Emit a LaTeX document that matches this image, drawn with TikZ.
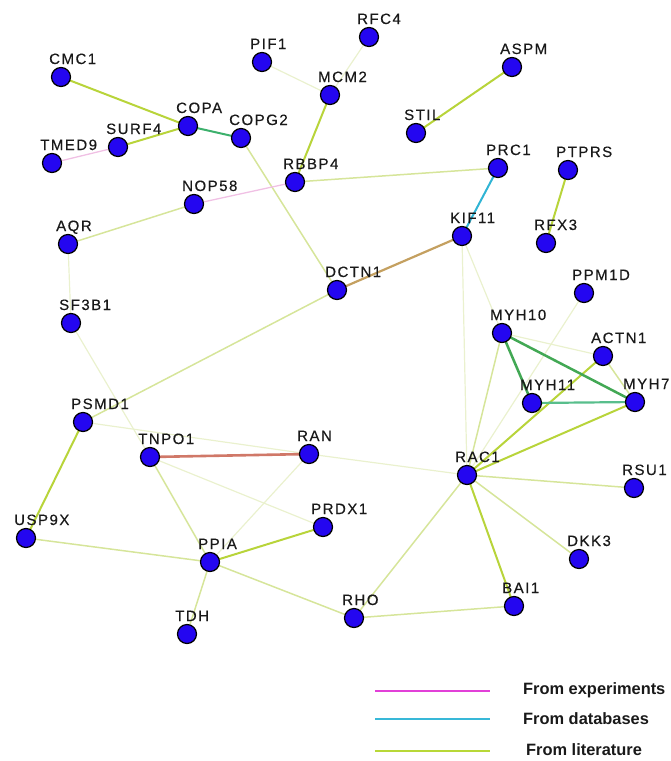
\documentclass[tikz,border=0pt]{standalone}
\usepackage{fontspec}
\newfontfamily\lblfont{Liberation Sans}[LetterSpace=10, FakeBold=0.4]
\newfontfamily\legfont{Liberation Sans}
\usetikzlibrary{backgrounds}

\definecolor{nodeblue}{RGB}{36,6,240}
\definecolor{litA}{RGB}{184,212,58}
\definecolor{litB}{RGB}{214,229,154}
\definecolor{litC}{RGB}{234,241,206}
\definecolor{expC}{RGB}{240,192,228}
\definecolor{dbC}{RGB}{48,180,212}
\definecolor{greenC}{RGB}{60,176,108}
\definecolor{tanC}{RGB}{196,160,96}
\definecolor{redC}{RGB}{208,120,104}
\definecolor{myoA}{RGB}{66,168,84}
\definecolor{myoB}{RGB}{88,190,140}
\definecolor{legMag}{RGB}{226,64,216}
\definecolor{legCyan}{RGB}{56,184,216}
\definecolor{legLime}{RGB}{184,216,56}

\tikzset{
  gene/.style={circle, minimum size=19pt, inner sep=0pt, fill=nodeblue, draw=black, line width=1.2pt},
  lbl/.style={anchor=base west, inner sep=0pt, font=\lblfont\fontsize{15}{15}\selectfont, text=black!90},
  legtext/.style={anchor=west, inner sep=0pt, font=\legfont\bfseries\fontsize{16.4}{17}\selectfont, text=black!90},
  litA/.style={draw=litA, line width=2pt},
  litB/.style={draw=litB, line width=1.5pt},
  litC/.style={draw=litC, line width=1.2pt},
  expE/.style={draw=expC, line width=1.3pt},
  dbE/.style={draw=dbC, line width=2pt},
  greenE/.style={draw=greenC, line width=2pt},
  tanE/.style={draw=tanC, line width=2.2pt},
  redE/.style={draw=redC, line width=2.6pt},
  myoA/.style={draw=myoA, line width=2.5pt},
  myoB/.style={draw=myoB, line width=2.2pt},
  legline/.style={line width=2pt}
}

% a gene: circle plus its name above and to the right
\newcommand{\gene}[4]{%
  \node[gene] (#1) at (#2,#3) {};
  \node[lbl] (#1-l) at ({#2-12},{#3-13}) {#4};
}

\begin{document}
\begin{tikzpicture}[x=1pt, y=-1pt]
\useasboundingbox (0,0) rectangle (671,761);

\gene{RFC4}{369}{37}{RFC4}
\gene{PIF1}{262}{62}{PIF1}
\gene{CMC1}{61}{77}{CMC1}
\gene{ASPM}{512}{67}{ASPM}
\gene{MCM2}{330}{95}{MCM2}
\gene{COPA}{188}{126}{COPA}
\gene{COPG2}{241}{138}{COPG2}
\gene{SURF4}{118}{147}{SURF4}
\gene{TMED9}{52}{163}{TMED9}
\gene{STIL}{416}{133}{STIL}
\gene{PRC1}{498}{168}{PRC1}
\gene{PTPRS}{568}{170}{PTPRS}
\gene{RBBP4}{295}{182}{RBBP4}
\gene{NOP58}{194}{204}{NOP58}
\gene{AQR}{68}{244}{AQR}
\gene{KIF11}{462}{236}{KIF11}
\gene{RFX3}{546}{243}{RFX3}
\gene{DCTN1}{337}{290}{DCTN1}
\gene{PPM1D}{584}{293}{PPM1D}
\gene{SF3B1}{71}{323}{SF3B1}
\gene{MYH10}{502}{333}{MYH10}
\gene{ACTN1}{603}{356}{ACTN1}
\gene{MYH11}{532}{403}{MYH11}
\gene{MYH7}{635}{402}{MYH7}
\gene{PSMD1}{83}{422}{PSMD1}
\gene{TNPO1}{150}{457}{TNPO1}
\gene{RAN}{309}{454}{RAN}
\gene{RAC1}{467}{475}{RAC1}
\gene{RSU1}{634}{488}{RSU1}
\gene{USP9X}{26}{538}{USP9X}
\gene{PRDX1}{323}{527}{PRDX1}
\gene{DKK3}{579}{559}{DKK3}
\gene{PPIA}{210}{562}{PPIA}
\gene{BAI1}{514}{606}{BAI1}
\gene{RHO}{354}{618}{RHO}
\gene{TDH}{187}{634}{TDH}

\begin{pgfonlayer}{background}
  % faint literature links
  \path[litC] (PIF1.center) -- (MCM2.center);
  \path[litC] (RFC4.center) -- (MCM2.center);
  \path[litC] (AQR.center) -- (SF3B1.center);
  \path[litC] (SF3B1.center) -- (TNPO1.center);
  \path[litC] (PSMD1.center) -- (RAN.center);
  \path[litC] (KIF11.center) -- (RAC1.center);
  \path[litC] (KIF11.center) -- (MYH10.center);
  \path[litC] (MYH10.center) -- (ACTN1.center);
  \path[litC] (PPM1D.center) -- (RAC1.center);
  \path[litC] (RAN.center) -- (RAC1.center);
  \path[litC] (RAN.center) -- (PPIA.center);
  \path[litC] (TNPO1.center) -- (PRDX1.center);
  % medium literature links
  \path[litB] (RBBP4.center) -- (PRC1.center);
  \path[litB] (AQR.center) -- (NOP58.center);
  \path[litB] (COPG2.center) -- (DCTN1.center);
  \path[litB] (PSMD1.center) -- (DCTN1.center);
  \path[litB] (MYH10.center) -- (RAC1.center);
  \path[litB] (ACTN1.center) -- (MYH7.center);
  \path[litB] (USP9X.center) -- (PPIA.center);
  \path[litB] (RAC1.center) -- (DKK3.center);
  \path[litB] (RAC1.center) -- (RSU1.center);
  \path[litB] (RHO.center) -- (RAC1.center);
  \path[litB] (PPIA.center) -- (RHO.center);
  \path[litB] (RHO.center) -- (BAI1.center);
  \path[litB] (TNPO1.center) -- (PPIA.center);
  \path[litB] (PPIA.center) -- (TDH.center);
  % strong literature links
  \path[litA] (CMC1.center) -- (COPA.center);
  \path[litA] (SURF4.center) -- (COPA.center);
  \path[litA] (MCM2.center) -- (RBBP4.center);
  \path[litA] (ASPM.center) -- (STIL.center);
  \path[litA] (PTPRS.center) -- (RFX3.center);
  \path[litA] (PSMD1.center) -- (USP9X.center);
  \path[litA] (PPIA.center) -- (PRDX1.center);
  \path[litA] (RAC1.center) -- (BAI1.center);
  \path[litA] (ACTN1.center) -- (RAC1.center);
  \path[litA] (MYH7.center) -- (RAC1.center);
  % experimental links
  \path[expE] (TMED9.center) -- (SURF4.center);
  \path[expE] (NOP58.center) -- (RBBP4.center);
  % database and combined links
  \path[dbE] (PRC1.center) -- (KIF11.center);
  \path[greenE] (COPA.center) -- (COPG2.center);
  \path[tanE] (DCTN1.center) -- (KIF11.center);
  \path[redE] (TNPO1.center) -- (RAN.center);
  \path[myoA] (MYH10.center) -- (MYH11.center);
  \path[myoA] (MYH10.center) -- (MYH7.center);
  \path[myoB] (MYH11.center) -- (MYH7.center);
\end{pgfonlayer}

% legend
\coordinate (e1) at (375,691); \coordinate (e2) at (490,691);
\coordinate (d1) at (375,719); \coordinate (d2) at (490,719);
\coordinate (l1) at (375,751); \coordinate (l2) at (490,751);
\draw[legline, legMag] (e1) -- (e2);
\draw[legline, legCyan] (d1) -- (d2);
\draw[legline, legLime] (l1) -- (l2);
\node[legtext] (legE) at (523,690) {From experiments};
\node[legtext] (legD) at (523,719) {From databases};
\node[legtext] (legL) at (526,750) {From literature};
\end{tikzpicture}
\end{document}
